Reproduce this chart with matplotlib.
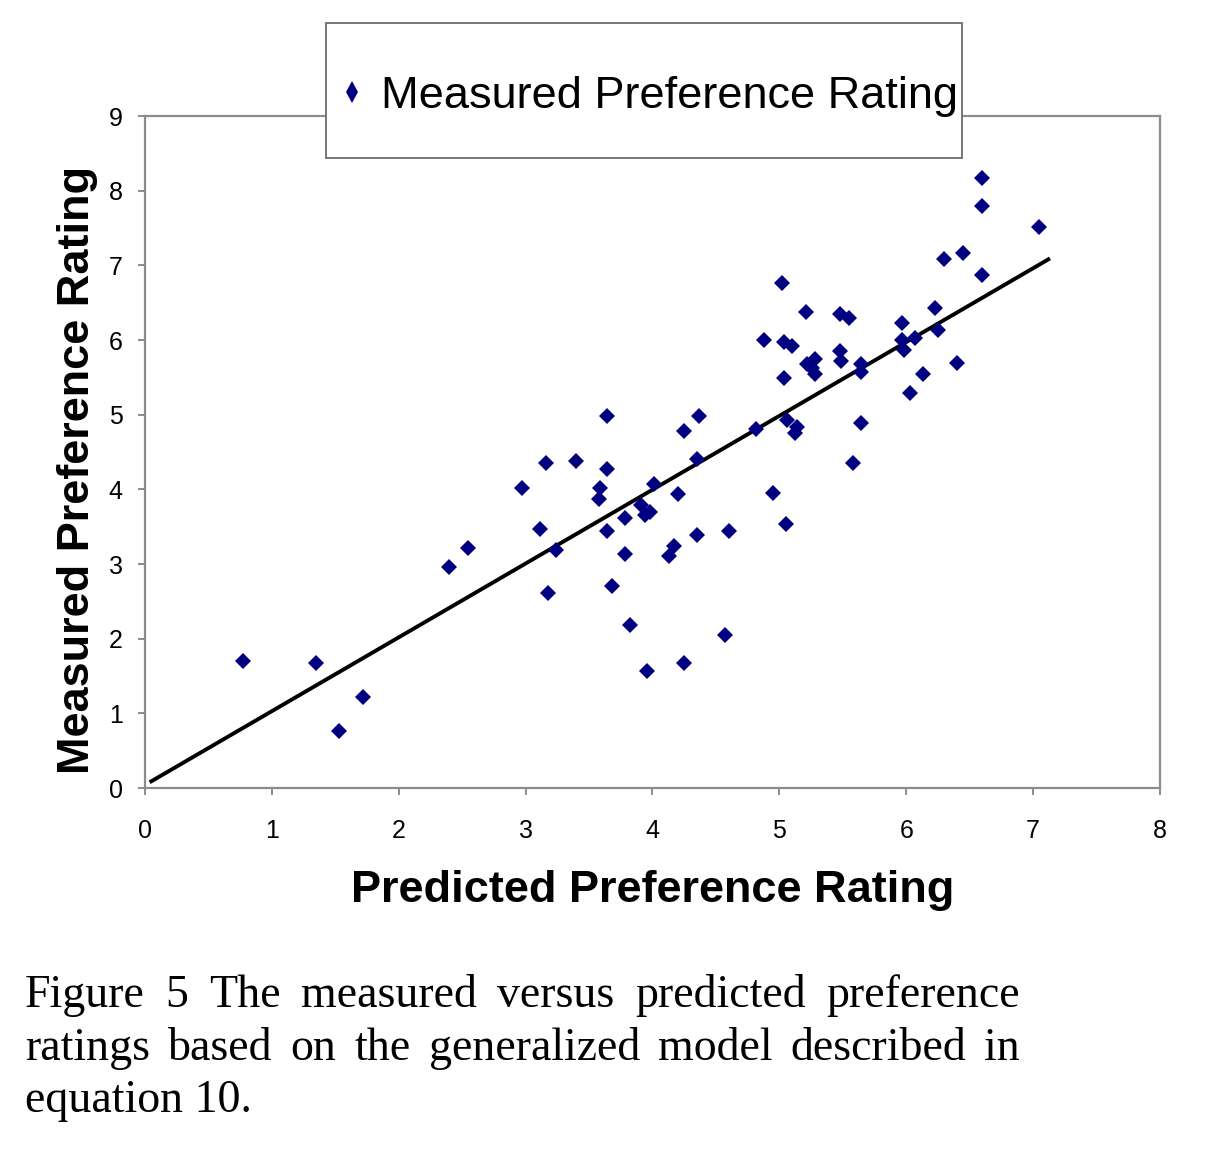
import numpy as np
import matplotlib
matplotlib.use('Agg')
import matplotlib.pyplot as plt
from matplotlib.patches import Rectangle
from matplotlib.lines import Line2D

# predicted vs measured ratings
predicted = [0.77, 1.35, 1.53, 1.72, 2.40, 2.55, 2.97, 3.11, 3.16, 3.18,
             3.24, 3.40, 3.58, 3.59, 3.64, 3.64, 3.64, 3.68, 3.78, 3.78,
             3.82, 3.91, 3.94, 3.98, 3.96, 4.01, 4.13, 4.17, 4.20, 4.25,
             4.25, 4.35, 4.35, 4.37, 4.57, 4.60, 4.82, 4.88, 4.95, 5.02,
             5.04, 5.04, 5.05, 5.06, 5.10, 5.12, 5.14, 5.21, 5.22, 5.26,
             5.28, 5.28, 5.48, 5.48, 5.49, 5.55, 5.58, 5.64, 5.64, 5.64,
             5.97, 5.97, 5.98, 6.03, 6.07, 6.13, 6.23, 6.25, 6.30, 6.40,
             6.45, 6.60, 6.60, 6.60, 7.05]
measured = [1.70, 1.67, 0.76, 1.22, 2.96, 3.21, 4.02, 3.47, 4.35, 2.61,
            3.19, 4.38, 3.87, 4.02, 4.98, 4.27, 3.44, 2.71, 3.62, 3.13,
            2.18, 3.79, 3.66, 3.70, 1.57, 4.07, 3.11, 3.24, 3.94, 4.78,
            1.67, 3.39, 4.41, 4.98, 2.05, 3.44, 4.81, 6.00, 3.95, 6.76,
            5.97, 5.49, 3.54, 4.93, 5.92, 4.75, 4.83, 6.37, 5.68, 5.62,
            5.54, 5.74, 6.35, 5.85, 5.72, 6.29, 4.35, 5.68, 5.57, 4.89,
            6.23, 6.00, 5.87, 5.29, 6.03, 5.54, 6.43, 6.13, 7.08, 5.69,
            7.16, 6.87, 7.79, 8.17, 7.51]

# regression line end points
fit_x = [0.05, 7.12]
fit_y = [0.09, 7.08]

xticks = list(range(0, 9))
yticks = list(range(0, 10))

caption_lines = [
    "Figure 5 The measured versus predicted preference",
    "ratings based on the generalized model described in",
    "equation 10.",
]

navy = '#000080'
gray = '#8c8c8c'

fig = plt.figure(figsize=(12.06, 11.64), dpi=100)
ax = fig.add_axes([0.1202, 0.3230, 0.8416, 0.5773])

ax.plot(predicted, measured, 'D', color=navy, markersize=8.3, markeredgewidth=0, zorder=3)
ax.plot(fit_x, fit_y, '-', color='black', linewidth=2.8, zorder=2)

ax.set_xlim(0, 8)
ax.set_ylim(0, 9)
ax.set_xticks(xticks)
ax.set_yticks(yticks)
for s in ax.spines.values():
    s.set_color(gray)
    s.set_linewidth(1.6)
ax.tick_params(direction='out', length=5, width=1.4, color=gray, labelsize=18)
ax.tick_params(axis='x', pad=17)
ax.tick_params(axis='y', pad=11)
for lab in ax.get_xticklabels() + ax.get_yticklabels():
    lab.set_family('Liberation Sans')

ax.set_xlabel('Predicted Preference Rating', fontsize=32.5, fontweight='bold',
              family='Liberation Sans', labelpad=20)
ax.set_ylabel('Measured Preference Rating', fontsize=32.5, fontweight='bold',
              family='Liberation Sans', labelpad=8)
ax.yaxis.label.set_y(0.473)

# legend box overlapping the top of the plot
box = Rectangle((0.2703, 0.8643), 0.5274, 0.1159, transform=fig.transFigure,
                facecolor='white', edgecolor='#606060', linewidth=1.2, zorder=5)
fig.patches.append(box)
handle = Line2D([], [], marker='d', color=navy, linestyle='none', markersize=11,
                markeredgewidth=0)
leg = fig.legend([handle], ['Measured Preference Rating'], loc='center',
                 bbox_to_anchor=(0.5356, 0.917), frameon=False,
                 prop={'family': 'Liberation Sans', 'size': 32.5},
                 handletextpad=0.25, handlelength=0.8)
leg.set_zorder(6)

# caption, justified by hand
fig.canvas.draw()
renderer = fig.canvas.get_renderer()
left_px, right_px = 25, 1020
W, H = fig.bbox.width, fig.bbox.height
baselines = [1007, 1060, 1112]
for i, line in enumerate(caption_lines):
    yb = 1 - baselines[i] / H
    words = line.split()
    if i == len(caption_lines) - 1:
        fig.text(left_px / W, yb, line, family='Liberation Serif', fontsize=33,
                 va='baseline', ha='left')
        continue
    texts = [fig.text(0, yb, w, family='Liberation Serif', fontsize=33,
                      va='baseline', ha='left') for w in words]
    widths = [t.get_window_extent(renderer).width for t in texts]
    gap = (right_px - left_px - sum(widths)) / (len(words) - 1)
    x = left_px
    for t, w in zip(texts, widths):
        t.set_x(x / W)
        x += w + gap

fig.savefig('out.png', dpi=100)
